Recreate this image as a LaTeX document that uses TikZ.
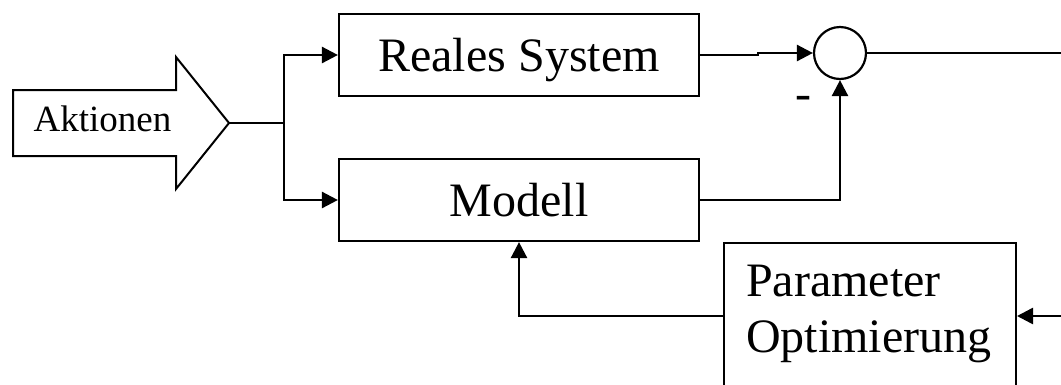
\documentclass[tikz,border=0pt]{standalone}
\usepackage{fontspec}
\setmainfont{Liberation Serif}
\usetikzlibrary{arrows.meta,calc}
\begin{document}
\begin{tikzpicture}[x=1pt,y=-1pt,
  blk/.style={draw,line width=2.2pt,inner sep=0pt,minimum width=360pt,minimum height=82pt,
    font=\fontsize{48}{56}\selectfont,text height=42pt,text depth=10pt},
  conn/.style={line width=2.6pt,line join=miter},
  arr/.style={conn,-{Triangle[length=16pt,width=16pt]}},
  lbl/.style={inner sep=0pt,font=\fontsize{48}{56}\selectfont},
]
\useasboundingbox (0,0) rectangle (1061,384);
\clip (0,0) rectangle (1061,384);
% big input arrow
\draw[line width=2pt,line join=miter] (13,90) -- (176,90) -- (176,57) -- (229,123)
  -- (176,189) -- (176,156) -- (13,156) -- cycle;
\node[inner sep=0pt,anchor=base,font=\fontsize{37}{44}\selectfont] (akt) at (102.5,131) {Aktionen};
\coordinate (tip) at (229,123);
\coordinate (j) at (284,123);
% blocks
\node[blk] (real) at (519,55) {Reales System};
\node[blk] (mod) at (519,200) {Modell};
\node[draw,circle,line width=2.2pt,minimum size=52pt,inner sep=0pt] (sum) at (840,53) {};
\node[draw,line width=2pt,minimum width=292pt,minimum height=152pt,inner sep=0pt] (param) at (870,319) {};
\node[lbl,anchor=west,align=left] (ptext) at (746,314) {Parameter\\Optimierung};
\node[lbl,anchor=base] (minus) at (803.5,109) {-};
% connectors
\coordinate (out) at (1061,53);
\coordinate (fin) at (1061,316);
\draw[conn] (tip) -- (j);
\draw[arr] (j) |- (real.west);
\draw[arr] (j) |- (mod.west);
\draw[arr] (real.east) -- ++(58,0) |- (sum.west);
\draw[arr] (mod.east) -| (sum.south);
\draw[conn] (sum.east) -- (out);
\draw[arr] (fin) -- (fin -| param.east);
\draw[arr] (fin -| param.west) -| (mod.south);
\end{tikzpicture}
\end{document}
